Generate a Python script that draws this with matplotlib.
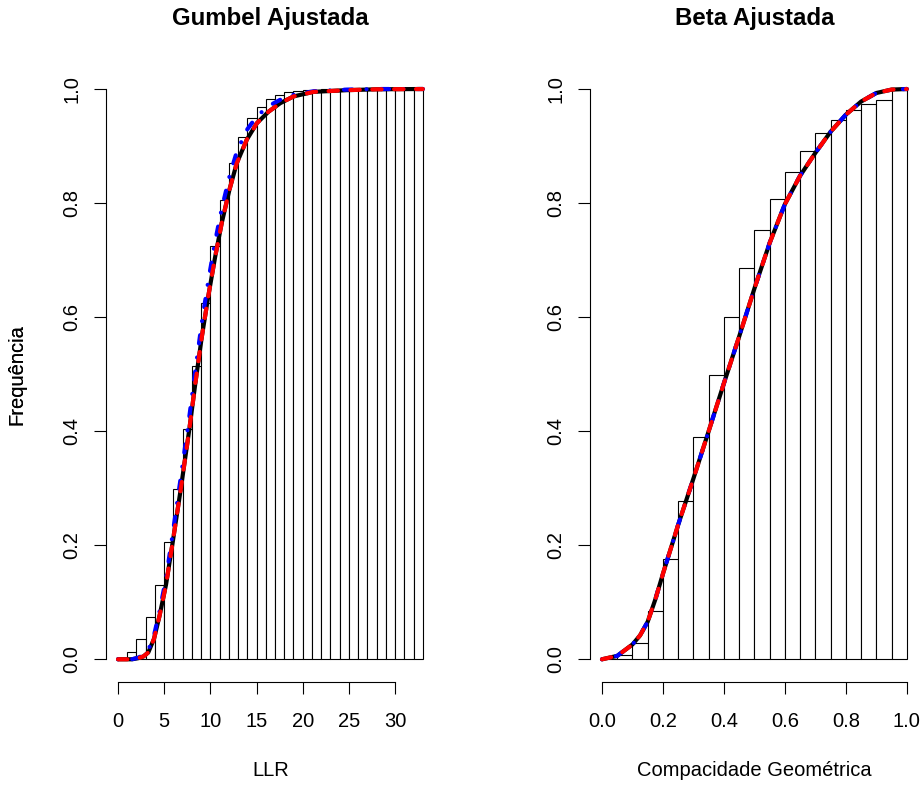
import matplotlib
matplotlib.use("Agg")
import matplotlib.pyplot as plt

plt.rcParams['font.family'] = ['Liberation Sans', 'DejaVu Sans']

# cumulative relative frequency per bin (LLR, bins of width 1 from 0 to 33)
llr_edges = list(range(0, 34))
llr_cum = [0.001, 0.012, 0.0355, 0.075, 0.131, 0.205, 0.298, 0.403, 0.515, 0.6245,
           0.724, 0.806, 0.870, 0.9165, 0.9485, 0.969, 0.982, 0.990, 0.994, 0.9965,
           0.998, 0.999, 0.9995, 1.0, 1.0, 1.0, 1.0, 1.0, 1.0, 1.0,
           1.0, 1.0, 1.0]

# fitted Gumbel CDFs on LLR
gumbel_x = [0, 1.5, 2.2, 2.75, 3.28, 3.9, 4.48, 5.2, 5.92, 6.79, 7.72, 8.4, 9.07,
            9.79, 10.51, 11.23, 12.06, 12.86, 13.94, 15.03, 16.28, 17.55, 19.0,
            21.16, 24.8, 28.0, 33.0]
gumbel_black = [0.0, 0.0, 0.002, 0.005, 0.012, 0.036, 0.075, 0.131, 0.205, 0.298,
                0.403, 0.487, 0.565, 0.638, 0.705, 0.765, 0.823, 0.870, 0.911,
                0.940, 0.960, 0.975, 0.987, 0.995, 0.998, 0.9995, 1.0]
gumbel_blue = [0.0, 0.0, 0.003, 0.007, 0.016, 0.042, 0.083, 0.142, 0.220, 0.318,
               0.425, 0.510, 0.590, 0.665, 0.732, 0.790, 0.846, 0.890, 0.928,
               0.952, 0.970, 0.981, 0.990, 0.996, 0.999, 1.0, 1.0]
gumbel_red = [0.0, 0.0, 0.002, 0.005, 0.012, 0.036, 0.075, 0.131, 0.205, 0.298,
              0.403, 0.487, 0.565, 0.638, 0.705, 0.765, 0.823, 0.870, 0.911,
              0.940, 0.960, 0.975, 0.987, 0.995, 0.998, 0.9995, 1.0]

# cumulative relative frequency per bin (compacidade, bins of width 0.05)
comp_edges = [i * 0.05 for i in range(21)]
comp_cum = [0.001, 0.007, 0.028, 0.084, 0.175, 0.277, 0.389, 0.499, 0.600, 0.687,
            0.752, 0.808, 0.854, 0.892, 0.922, 0.945, 0.963, 0.974, 0.981, 1.0]

# fitted Beta CDFs on compacidade
beta_x = [0.0, 0.05, 0.10, 0.125, 0.15, 0.175, 0.20, 0.25, 0.30, 0.35, 0.40, 0.45,
          0.50, 0.55, 0.60, 0.65, 0.70, 0.75, 0.80, 0.85, 0.90, 0.95, 1.0]
beta_black = [0.0, 0.006, 0.026, 0.042, 0.066, 0.105, 0.150, 0.236, 0.317, 0.400,
              0.484, 0.566, 0.650, 0.730, 0.798, 0.848, 0.888, 0.925, 0.955,
              0.978, 0.993, 0.999, 1.0]
beta_blue = list(beta_black)
beta_red = list(beta_black)

W, H = 923, 785
fig = plt.figure(figsize=(W / 100, H / 100), dpi=100)

FS = 14.5
LW = 3.0


def panel(left_px, edges, cum, xs, curves, xticks, xticklabels, title, xlabel):
    bottom_px, top_px = 682.1, 66.2
    width_px = 329.2
    ax = fig.add_axes([left_px / W, (H - bottom_px) / H, width_px / W, (bottom_px - top_px) / H])
    widths = [edges[i + 1] - edges[i] for i in range(len(cum))]
    ax.bar(edges[:-1], cum, width=widths, align='edge', facecolor='white',
           edgecolor='black', linewidth=0.8, zorder=1)
    black, blue, red = curves
    ax.plot(xs, black, color='black', lw=LW, solid_capstyle='round', zorder=2)
    ax.plot(xs, blue, color='blue', lw=LW, linestyle=(0, (0.01, 3.4, 2.0, 3.4)),
            dash_capstyle='round', zorder=3)
    ax.plot(xs, red, color='red', lw=LW, linestyle=(0, (2.25, 3.0)),
            dash_capstyle='round', zorder=4)

    span = edges[-1] - edges[0]
    ax.set_xlim(edges[0] - 0.04 * span, edges[-1] + 0.04 * span)
    ax.set_ylim(-0.04, 1.04)

    for s in ('top', 'right'):
        ax.spines[s].set_visible(False)
    ax.spines['left'].set_bounds(0, 1)
    ax.spines['bottom'].set_bounds(xticks[0], xticks[-1])
    for s in ('left', 'bottom'):
        ax.spines[s].set_linewidth(0.8)

    ax.set_xticks(xticks)
    ax.set_xticklabels(xticklabels, fontsize=FS)
    ax.set_yticks([0, 0.2, 0.4, 0.6, 0.8, 1.0])
    ax.set_yticklabels(['0.0', '0.2', '0.4', '0.6', '0.8', '1.0'], fontsize=FS,
                       rotation=90, va='center')
    ax.tick_params(axis='both', length=8.4, width=0.8, direction='out')
    ax.tick_params(axis='x', pad=13.0)
    ax.tick_params(axis='y', pad=9.0)

    ax.set_title(title, fontsize=17.3, fontweight='bold', y=1.0669, va='baseline', pad=0)
    ax.set_xlabel(xlabel, fontsize=FS)
    ax.xaxis.set_label_coords(0.5, -(770 - bottom_px) / (bottom_px - top_px))
    ax.xaxis.label.set_verticalalignment('center')
    ax.set_ylabel('Frequência', fontsize=FS)
    ax.yaxis.set_label_coords(-(left_px - 17) / width_px, 0.5)
    ax.yaxis.label.set_verticalalignment('center')
    return ax


panel(105.8, llr_edges, llr_cum, gumbel_x, (gumbel_black, gumbel_blue, gumbel_red),
      [0, 5, 10, 15, 20, 25, 30], ['0', '5', '10', '15', '20', '25', '30'],
      'Gumbel Ajustada', 'LLR')
panel(589.8, comp_edges, comp_cum, beta_x, (beta_black, beta_blue, beta_red),
      [0, 0.2, 0.4, 0.6, 0.8, 1.0], ['0.0', '0.2', '0.4', '0.6', '0.8', '1.0'],
      'Beta Ajustada', 'Compacidade Geométrica')

fig.savefig('out.png', dpi=100)
